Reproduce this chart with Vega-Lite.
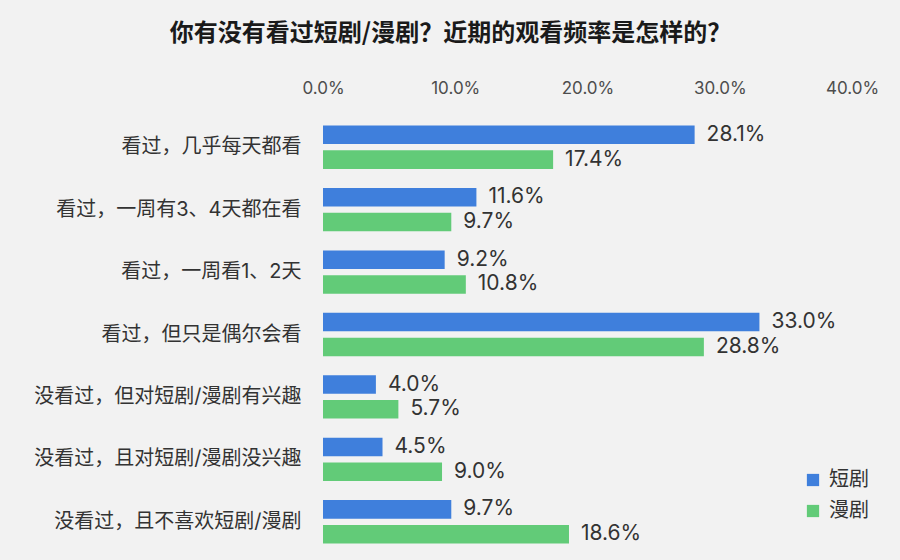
{
  "$schema": "https://vega.github.io/schema/vega-lite/v6.json",
  "width": 529,
  "height": 437,
  "autosize": {"type": "none"},
  "padding": {"left": 323, "top": 116, "right": 48, "bottom": 7},
  "background": "#f2f2f2",
  "config": {
    "font": "Inter, Noto Sans CJK SC",
    "view": {"stroke": null}
  },
  "title": {
    "text": "你有没有看过短剧/漫剧？近期的观看频率是怎样的？",
    "font": "Noto Sans CJK SC",
    "fontSize": 24,
    "fontWeight": "bold",
    "color": "#1a1a1a",
    "anchor": "middle",
    "dx": -137,
    "offset": 33
  },
  "data": {
    "values": [
      {"category": "看过，几乎每天都看", "series": "短剧", "value": 0.281},
      {"category": "看过，几乎每天都看", "series": "漫剧", "value": 0.174},
      {"category": "看过，一周有3、4天都在看", "series": "短剧", "value": 0.116},
      {"category": "看过，一周有3、4天都在看", "series": "漫剧", "value": 0.097},
      {"category": "看过，一周看1、2天", "series": "短剧", "value": 0.092},
      {"category": "看过，一周看1、2天", "series": "漫剧", "value": 0.108},
      {"category": "看过，但只是偶尔会看", "series": "短剧", "value": 0.33},
      {"category": "看过，但只是偶尔会看", "series": "漫剧", "value": 0.288},
      {"category": "没看过，但对短剧/漫剧有兴趣", "series": "短剧", "value": 0.04},
      {"category": "没看过，但对短剧/漫剧有兴趣", "series": "漫剧", "value": 0.057},
      {"category": "没看过，且对短剧/漫剧没兴趣", "series": "短剧", "value": 0.045},
      {"category": "没看过，且对短剧/漫剧没兴趣", "series": "漫剧", "value": 0.09},
      {"category": "没看过，且不喜欢短剧/漫剧", "series": "短剧", "value": 0.097},
      {"category": "没看过，且不喜欢短剧/漫剧", "series": "漫剧", "value": 0.186}
    ]
  },
  "encoding": {
    "y": {
      "field": "category",
      "type": "nominal",
      "sort": null,
      "title": null,
      "scale": {"paddingInner": 0.306, "paddingOuter": 0.153},
      "axis": {
        "domain": false,
        "ticks": false,
        "labelFont": "Inter, Noto Sans CJK SC",
        "labelFontSize": 20,
        "labelColor": "#333333",
        "labelPadding": 22,
        "labelLimit": 320
      }
    },
    "yOffset": {
      "field": "series",
      "type": "nominal",
      "sort": ["短剧", "漫剧"],
      "scale": {"paddingInner": 0.254}
    },
    "x": {
      "field": "value",
      "type": "quantitative",
      "title": null,
      "scale": {"domain": [0, 0.4], "nice": false},
      "axis": {
        "orient": "top",
        "format": ".1%",
        "values": [0, 0.1, 0.2, 0.3, 0.4],
        "domain": false,
        "ticks": false,
        "grid": false,
        "labelFlush": false,
        "labelFontSize": 17,
        "labelColor": "#4d4d4d",
        "labelPadding": 19
      }
    }
  },
  "layer": [
    {
      "mark": {"type": "bar"},
      "encoding": {
        "color": {
          "field": "series",
          "type": "nominal",
          "title": null,
          "scale": {"domain": ["短剧", "漫剧"], "range": ["#3f7fdc", "#62cb78"]},
          "legend": {
            "orient": "none",
            "legendX": 480,
            "legendY": 354,
            "symbolType": "square",
            "symbolSize": 150,
            "symbolStrokeWidth": 0,
            "labelFont": "Noto Sans CJK SC",
            "labelFontSize": 20,
            "labelColor": "#333333",
            "labelOffset": 6,
            "rowPadding": 11
          }
        }
      }
    },
    {
      "mark": {"type": "text", "align": "left", "baseline": "middle", "dx": 12, "fontSize": 21, "color": "#333333"},
      "encoding": {
        "text": {"field": "value", "type": "quantitative", "format": ".1%"}
      }
    }
  ]
}
